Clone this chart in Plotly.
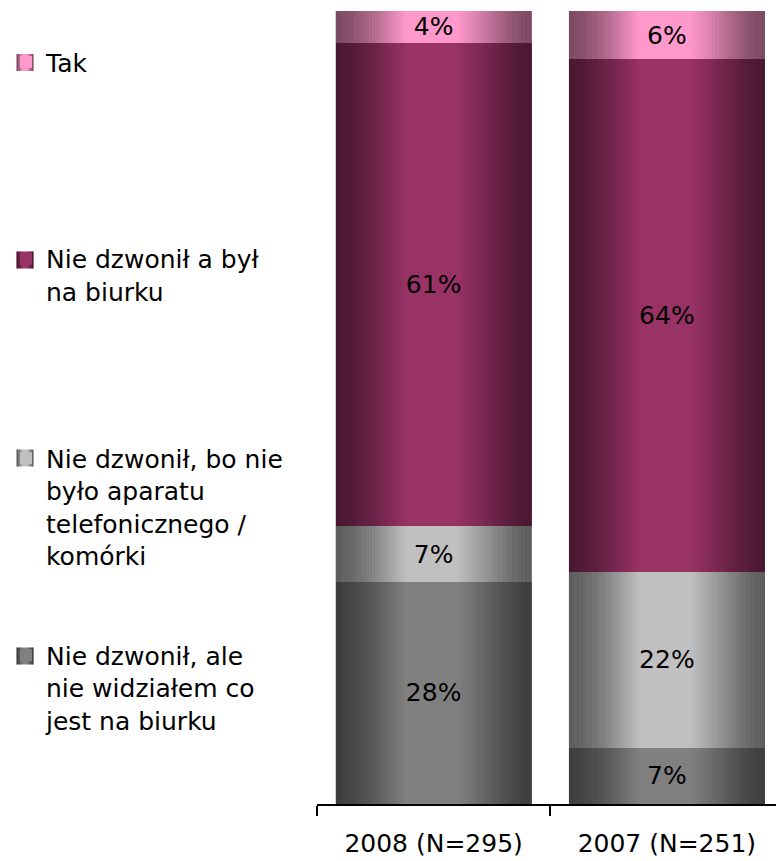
import numpy as np
import plotly.graph_objects as go

# --- data -------------------------------------------------------------
categories = ["2008 (N=295)", "2007 (N=251)"]

series_names = [
    "Nie dzwonił, ale<br>nie widziałem co<br>jest na biurku",
    "Nie dzwonił, bo nie<br>było aparatu<br>telefonicznego /<br>komórki",
    "Nie dzwonił a był<br>na biurku",
    "Tak",
]
nie_widzialem = [28, 7]
nie_bylo_aparatu = [7, 22]
byl_na_biurku = [61, 64]
tak = [4, 6]

# --- style ------------------------------------------------------------
FONT = "DejaVu Sans"
FONT_SIZE = 25
colors = ["#808080", "#C0C0C0", "#993366", "#FF99CC"]
BARGAP = 0.16

W, H = 776, 861
M_L, M_R, M_T, M_B = 317, 0, 11, 57
PLOT_W = W - M_L - M_R
PLOT_H = H - M_T - M_B

values = [nie_widzialem, nie_bylo_aparatu, byl_na_biurku, tak]
legend_ids = ["legend4", "legend3", "legend2", "legend"]
# top of each legend block (container fraction) and the pixel row of its icon
legend_tops = [0.2654, 0.4943, 0.7261, 0.9543]
icon_rows = [656, 458, 260, 62.5]
LEGEND_X_PX = 6
ICON_CX = 25
ICON_SIZE = 17

fig = go.Figure()
for name, vals, col, lid in zip(series_names, values, colors, legend_ids):
    fig.add_trace(go.Bar(
        x=categories,
        y=vals,
        name=name,
        legend=lid,
        marker=dict(color=col, line=dict(width=0)),
        text=[f"{v}%" for v in vals],
        textposition="inside",
        insidetextanchor="middle",
        textangle=0,
        constraintext="none",
        textfont=dict(family=FONT, size=FONT_SIZE, color="black"),
        hovertemplate="%{x}: %{text}<extra></extra>",
    ))

# cylinder-like shading profile (darkness across the width of a bar)
shade_u = [0.0, 0.08, 0.18, 0.28, 0.36, 0.62, 0.72, 0.82, 0.92, 1.0]
shade_a = [0.52, 0.45, 0.32, 0.14, 0.0, 0.0, 0.14, 0.30, 0.45, 0.52]


def shade_stripes(x_left, width, y0, y1, n, xref, yref, layer):
    out = []
    step = width / n
    for k in range(n):
        u = (k + 0.5) / n
        a = float(np.interp(u, shade_u, shade_a))
        if a <= 0.001:
            continue
        out.append(dict(
            type="rect", xref=xref, yref=yref,
            x0=x_left + k * step, x1=x_left + (k + 1) * step + step * 0.05,
            y0=y0, y1=y1,
            fillcolor=f"rgba(0,0,0,{a:.3f})",
            line=dict(width=0), layer=layer,
        ))
    return out


shapes = []
bar_w = 1 - BARGAP
for i in range(len(categories)):
    shapes += shade_stripes(i - bar_w / 2, bar_w, 0, 100, 60, "x", "y", "above")


# shaded squares behind the legend symbols
def px_x(px):
    return (px - M_L) / PLOT_W


def px_y(py):
    return (H - M_B - py) / PLOT_H


for col, row in zip(colors, icon_rows):
    x0 = px_x(ICON_CX - ICON_SIZE / 2)
    x1 = px_x(ICON_CX + ICON_SIZE / 2)
    y0 = px_y(row + ICON_SIZE / 2)
    y1 = px_y(row - ICON_SIZE / 2)
    shapes.append(dict(type="rect", xref="paper", yref="paper",
                       x0=x0, x1=x1, y0=y0, y1=y1,
                       fillcolor=col, line=dict(width=0), layer="above"))
    shapes += shade_stripes(x0, x1 - x0, y0, y1, 12, "paper", "paper", "above")

legend_common = dict(
    xref="container", yref="container",
    x=LEGEND_X_PX / W, xanchor="left", yanchor="top",
    font=dict(family=FONT, size=FONT_SIZE, color="black"),
    valign="top", bgcolor="rgba(0,0,0,0)", borderwidth=0,
)
layout_legends = {}
for lid, top in zip(legend_ids, legend_tops):
    layout_legends[lid] = dict(legend_common, y=top)

fig.update_layout(
    width=W, height=H,
    margin=dict(l=M_L, r=M_R, t=M_T, b=M_B, autoexpand=False),
    barmode="stack", barnorm="percent", bargap=BARGAP,
    plot_bgcolor="white", paper_bgcolor="white",
    showlegend=True,
    shapes=shapes,
    font=dict(family=FONT, size=FONT_SIZE, color="black"),
    xaxis=dict(
        type="category",
        range=[-0.5, 1.468],
        showline=True, linecolor="black", linewidth=2,
        ticks="outside", tickson="boundaries", ticklen=10,
        tickwidth=2, tickcolor="black",
        ticklabelstandoff=16,
        showgrid=False, zeroline=False,
        tickfont=dict(family=FONT, size=FONT_SIZE, color="black"),
    ),
    yaxis=dict(
        range=[0, 100], visible=False, showgrid=False, zeroline=False,
    ),
    **layout_legends,
)

fig.write_html("out.html")
